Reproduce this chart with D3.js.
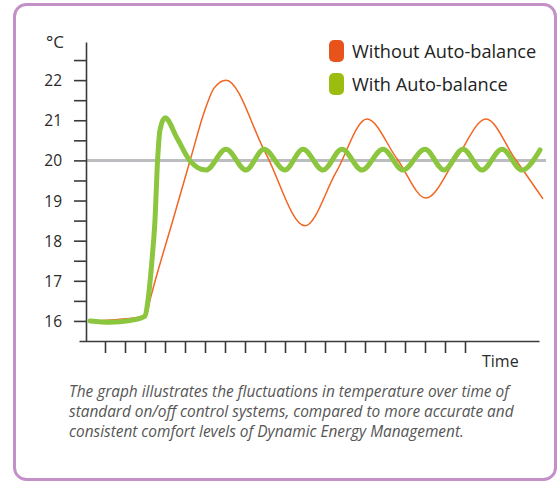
<!DOCTYPE html>
<html lang="en">
<head>
<meta charset="utf-8">
<title>Auto-balance</title>
<script src="https://cdn.jsdelivr.net/npm/d3@7/dist/d3.min.js"></script>
<style>
  body { margin: 0; background: #fff; }
  svg { display: block; font-family: "Open Sans", sans-serif; }
  .axis path, .axis line { stroke: #3a3a3a; stroke-width: 1.6px; }
  .axis text { font-size: 15.5px; fill: #2a2a2a; font-family: "Open Sans", sans-serif; }
</style>
</head>
<body>
<script>
// time in tick units, temperature in °C
var withoutT = [0.25, 3.05, 3.25, 4.4, 5.25, 6.0, 6.45, 7.05, 9.03, 11.0, 12.55, 14.1, 15.6, 17.05, 18.55, 20.05, 21.5, 22.9];
var withoutV = [16.0, 16.12, 16.52, 18.52, 19.99, 21.26, 21.8, 22.0, 20.18, 18.37, 19.7, 21.03, 20.04, 19.06, 20.04, 21.03, 20.04, 19.04];

var withT = [0.25, 1.25, 2.25, 3.0, 3.15, 3.35, 3.5, 3.63, 3.75, 4.0, 4.6, 5.25, 6.05, 7.05, 8.05, 8.95, 10.0, 10.9, 11.9, 12.85, 13.85, 14.9, 15.9, 17.0, 17.95, 18.9, 19.85, 20.85, 21.85, 22.75];
var withV = [16.0, 15.97, 16.01, 16.12, 16.52, 17.52, 18.52, 20.01, 20.76, 21.06, 20.56, 19.99, 19.76, 20.28, 19.76, 20.28, 19.76, 20.28, 19.76, 20.28, 19.76, 20.28, 19.76, 20.28, 19.76, 20.28, 19.76, 20.28, 19.76, 20.26];

var setpoint = 20;
var yTicks = [16, 16.5, 17, 17.5, 18, 18.5, 19, 19.5, 20, 20.5, 21, 21.5, 22, 22.5];
var xTicks = [1, 2, 3, 4, 5, 6, 7, 8, 9, 10, 11, 12, 13, 14, 15, 16, 17, 18, 19];
var legendLabels = ["Without Auto-balance", "With Auto-balance"];
var caption = [
  "The graph illustrates the fluctuations in temperature over time of",
  "standard on/off control systems, compared to more accurate and",
  "consistent comfort levels of Dynamic Energy Management."
];

var w = 559, h = 483;
var svg = d3.select("body").append("svg").attr("width", w).attr("height", h);

// frame
svg.append("rect")
  .attr("x", 14.5).attr("y", 4.5)
  .attr("width", 541).attr("height", 475)
  .attr("rx", 12)
  .attr("fill", "#fff")
  .attr("stroke", "#c391c8")
  .attr("stroke-width", 3);

var x = d3.scaleLinear().domain([-0.3, 22.7]).range([79, 539]);
var y = d3.scaleLinear().domain([15.5, 22.95]).range([341, 42]);

// setpoint line
svg.append("line")
  .attr("x1", x(0.05)).attr("x2", x(23.05))
  .attr("y1", y(setpoint)).attr("y2", y(setpoint))
  .attr("stroke", "#bcbdc1")
  .attr("stroke-width", 3);

svg.append("g")
  .attr("class", "axis")
  .attr("transform", "translate(86,0)")
  .call(d3.axisLeft(y).tickValues(yTicks).tickSize(12).tickSizeOuter(0).tickPadding(12)
    .tickFormat(function(d){ return d % 1 === 0 ? d : ""; }))
  .call(function(g){ g.selectAll("text").attr("dy", "0.36em"); });

svg.append("g")
  .attr("class", "axis")
  .attr("transform", "translate(0,341)")
  .call(d3.axisBottom(x).tickValues(xTicks).tickSize(12).tickSizeOuter(0).tickFormat(""));

svg.append("text")
  .attr("x", 46).attr("y", 48)
  .attr("font-size", 17).attr("fill", "#2a2a2a")
  .text("°C");

svg.append("text")
  .attr("x", 482).attr("y", 367)
  .attr("font-size", 16).attr("fill", "#2a2a2a")
  .text("Time");

var line = d3.line()
  .x(function(d){ return x(d[0]); })
  .y(function(d){ return y(d[1]); })
  .curve(d3.curveMonotoneX);

svg.append("path")
  .datum(d3.zip(withoutT, withoutV))
  .attr("d", line)
  .attr("fill", "none")
  .attr("stroke", "#f26522")
  .attr("stroke-width", 1.5);

svg.append("path")
  .datum(d3.zip(withT, withV))
  .attr("d", line)
  .attr("fill", "none")
  .attr("stroke", "#8cc63f")
  .attr("stroke-width", 5)
  .attr("stroke-linecap", "round")
  .attr("stroke-linejoin", "round");

// legend
var legendColors = ["#e8531b", "#9bbd10"];
var lg = svg.selectAll(".leg")
  .data(legendLabels)
  .enter().append("g")
  .attr("class", "leg")
  .attr("transform", function(d, i){ return "translate(329," + (40 + i * 33) + ")"; });

lg.append("rect")
  .attr("width", 15).attr("height", 22).attr("rx", 5)
  .attr("fill", function(d, i){ return legendColors[i]; });

lg.append("text")
  .attr("x", 23).attr("y", 18)
  .attr("font-size", 18.2).attr("fill", "#222")
  .text(function(d){ return d; });

svg.selectAll(".cap")
  .data(caption)
  .enter().append("text")
  .attr("class", "cap")
  .attr("x", 69)
  .attr("y", function(d, i){ return 397 + i * 20; })
  .attr("font-size", 15.4)
  .attr("font-style", "italic")
  .attr("fill", "#555")
  .text(function(d){ return d; });
</script>
</body>
</html>
